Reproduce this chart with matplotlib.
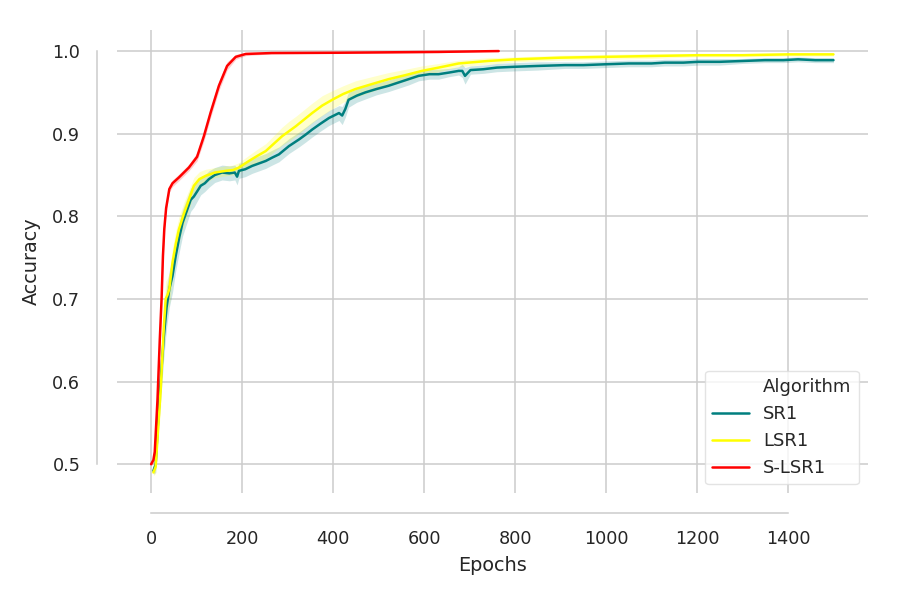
"""Accuracy curves of SR1, LSR1 and S-LSR1 over training epochs."""

import matplotlib

matplotlib.use("Agg")

import matplotlib.pyplot as plt
import seaborn as sns
from matplotlib.lines import Line2D

# SR1 (teal)
sr1_epochs = [5, 10, 16, 22, 28, 34, 40, 47, 54, 62, 69, 78, 87, 94, 101, 109,
              118, 127, 140, 156, 172, 184, 189, 193, 207, 222, 237, 252, 266,
              281, 292, 303, 314, 325, 340, 354, 372, 391, 402, 413, 420, 427,
              434, 452, 471, 495, 522, 544, 566, 588, 612, 632, 655, 676, 684,
              690, 702, 730, 760, 800, 850, 910, 950, 998, 1050, 1100, 1129,
              1170, 1203, 1250, 1300, 1349, 1390, 1422, 1460, 1500]
sr1_acc = [0.492, 0.500, 0.560, 0.610, 0.655, 0.690, 0.712, 0.728, 0.752, 0.775,
           0.792, 0.806, 0.820, 0.824, 0.830, 0.837, 0.840, 0.845, 0.850, 0.853,
           0.852, 0.853, 0.848, 0.855, 0.857, 0.861, 0.864, 0.867, 0.871, 0.875,
           0.880, 0.885, 0.889, 0.893, 0.899, 0.905, 0.912, 0.919, 0.922, 0.925,
           0.922, 0.930, 0.941, 0.946, 0.950, 0.954, 0.958, 0.962, 0.966, 0.970,
           0.972, 0.972, 0.974, 0.976, 0.976, 0.970, 0.977, 0.978, 0.980, 0.981,
           0.982, 0.983, 0.983, 0.984, 0.985, 0.985, 0.986, 0.986, 0.987, 0.987,
           0.988, 0.989, 0.989, 0.990, 0.989, 0.989]
sr1_spread = [0.004, 0.010, 0.020, 0.025, 0.025, 0.025, 0.022, 0.020, 0.018, 0.018,
              0.016, 0.015, 0.014, 0.013, 0.012, 0.011, 0.010, 0.010, 0.009, 0.009,
              0.009, 0.009, 0.010, 0.009, 0.009, 0.009, 0.009, 0.009, 0.009, 0.009,
              0.009, 0.009, 0.009, 0.009, 0.009, 0.009, 0.009, 0.009, 0.009, 0.009,
              0.011, 0.010, 0.009, 0.008, 0.008, 0.007, 0.007, 0.007, 0.007, 0.006,
              0.006, 0.006, 0.005, 0.005, 0.008, 0.010, 0.005, 0.005, 0.005, 0.005,
              0.005, 0.004, 0.004, 0.004, 0.004, 0.004, 0.004, 0.004, 0.004, 0.004,
              0.003, 0.003, 0.003, 0.003, 0.003, 0.003]

# LSR1 (yellow)
lsr1_epochs = [5, 10, 15, 21, 28, 32, 36, 40, 47, 54, 61, 72, 83, 94, 106, 120,
               140, 164, 180, 193, 215, 233, 252, 270, 288, 303, 318, 336, 354,
               376, 398, 422, 449, 485, 522, 560, 595, 632, 676, 740, 800, 900,
               998, 1100, 1203, 1300, 1400, 1500]
lsr1_acc = [0.490, 0.497, 0.540, 0.590, 0.667, 0.700, 0.705, 0.712, 0.744, 0.766,
            0.784, 0.803, 0.820, 0.837, 0.845, 0.849, 0.853, 0.855, 0.856, 0.859,
            0.867, 0.873, 0.879, 0.888, 0.897, 0.903, 0.909, 0.917, 0.925, 0.934,
            0.941, 0.948, 0.954, 0.960, 0.966, 0.971, 0.976, 0.980, 0.985, 0.988,
            0.990, 0.992, 0.993, 0.994, 0.995, 0.995, 0.996, 0.996]
lsr1_spread = [0.004, 0.008, 0.015, 0.020, 0.022, 0.022, 0.020, 0.020, 0.018, 0.016,
               0.015, 0.014, 0.012, 0.010, 0.009, 0.008, 0.006, 0.006, 0.006, 0.006,
               0.007, 0.008, 0.009, 0.010, 0.011, 0.012, 0.012, 0.012, 0.012, 0.012,
               0.011, 0.010, 0.010, 0.009, 0.008, 0.007, 0.006, 0.005, 0.004, 0.004,
               0.003, 0.003, 0.003, 0.003, 0.002, 0.002, 0.002, 0.002]

# S-LSR1 (red)
slsr1_epochs = [0, 5, 8, 14, 19, 23, 26, 29, 33, 40, 47, 61, 83, 101, 116, 131,
                149, 167, 186, 208, 265, 413, 632, 764]
slsr1_acc = [0.500, 0.505, 0.515, 0.578, 0.650, 0.700, 0.752, 0.785, 0.810, 0.833,
             0.840, 0.847, 0.859, 0.872, 0.897, 0.926, 0.958, 0.982, 0.993, 0.9965,
             0.9976, 0.998, 0.999, 1.000]
slsr1_spread = [0.002, 0.004, 0.006, 0.008, 0.008, 0.008, 0.008, 0.006, 0.005, 0.004,
                0.004, 0.004, 0.004, 0.005, 0.006, 0.006, 0.006, 0.005, 0.003, 0.002,
                0.001, 0.001, 0.001, 0.000]

series = [
    ("SR1", sr1_epochs, sr1_acc, sr1_spread, "#007f7f"),
    ("LSR1", lsr1_epochs, lsr1_acc, lsr1_spread, "#ffff00"),
    ("S-LSR1", slsr1_epochs, slsr1_acc, slsr1_spread, "#ff0000"),
]

sns.set_theme(style="whitegrid")
plt.rcParams["font.family"] = ["DejaVu Sans"]

fig = plt.figure(figsize=(9, 6), dpi=100)
ax = fig.add_axes([0.13, 0.178, 0.834, 0.772])

handles = [Line2D([], [], linestyle="none", alpha=0)]
labels = ["Algorithm"]
for name, x, y, spread, color in series:
    lower = [v - s for v, s in zip(y, spread)]
    upper = [v + s for v, s in zip(y, spread)]
    ax.fill_between(x, lower, upper, color=color, alpha=0.2, linewidth=0)
    (line,) = ax.plot(x, y, color=color, linewidth=1.8)
    handles.append(line)
    labels.append(name)

ax.set_xlim(-75, 1575)
ax.set_ylim(0.4649, 1.0255)
ax.set_xticks(range(0, 1401, 200))
ax.set_yticks([0.5, 0.6, 0.7, 0.8, 0.9, 1.0])
ax.tick_params(labelsize=12.7, colors="#262626", pad=6)
ax.set_xlabel("Epochs", fontsize=13.9, color="#262626", labelpad=6)
ax.set_ylabel("Accuracy", fontsize=13.9, color="#262626", labelpad=8)
ax.grid(True, color="#cccccc", linewidth=1.1)

sns.despine(ax=ax, offset=14.4, trim=True)
for side in ("left", "bottom"):
    ax.spines[side].set_color("#cccccc")
    ax.spines[side].set_linewidth(1.1)

leg = ax.legend(handles, labels, loc="lower right", fontsize=13,
                frameon=True, handlelength=2.0)
leg.get_frame().set_edgecolor("#dddddd")

fig.savefig("out.png", dpi=100)
